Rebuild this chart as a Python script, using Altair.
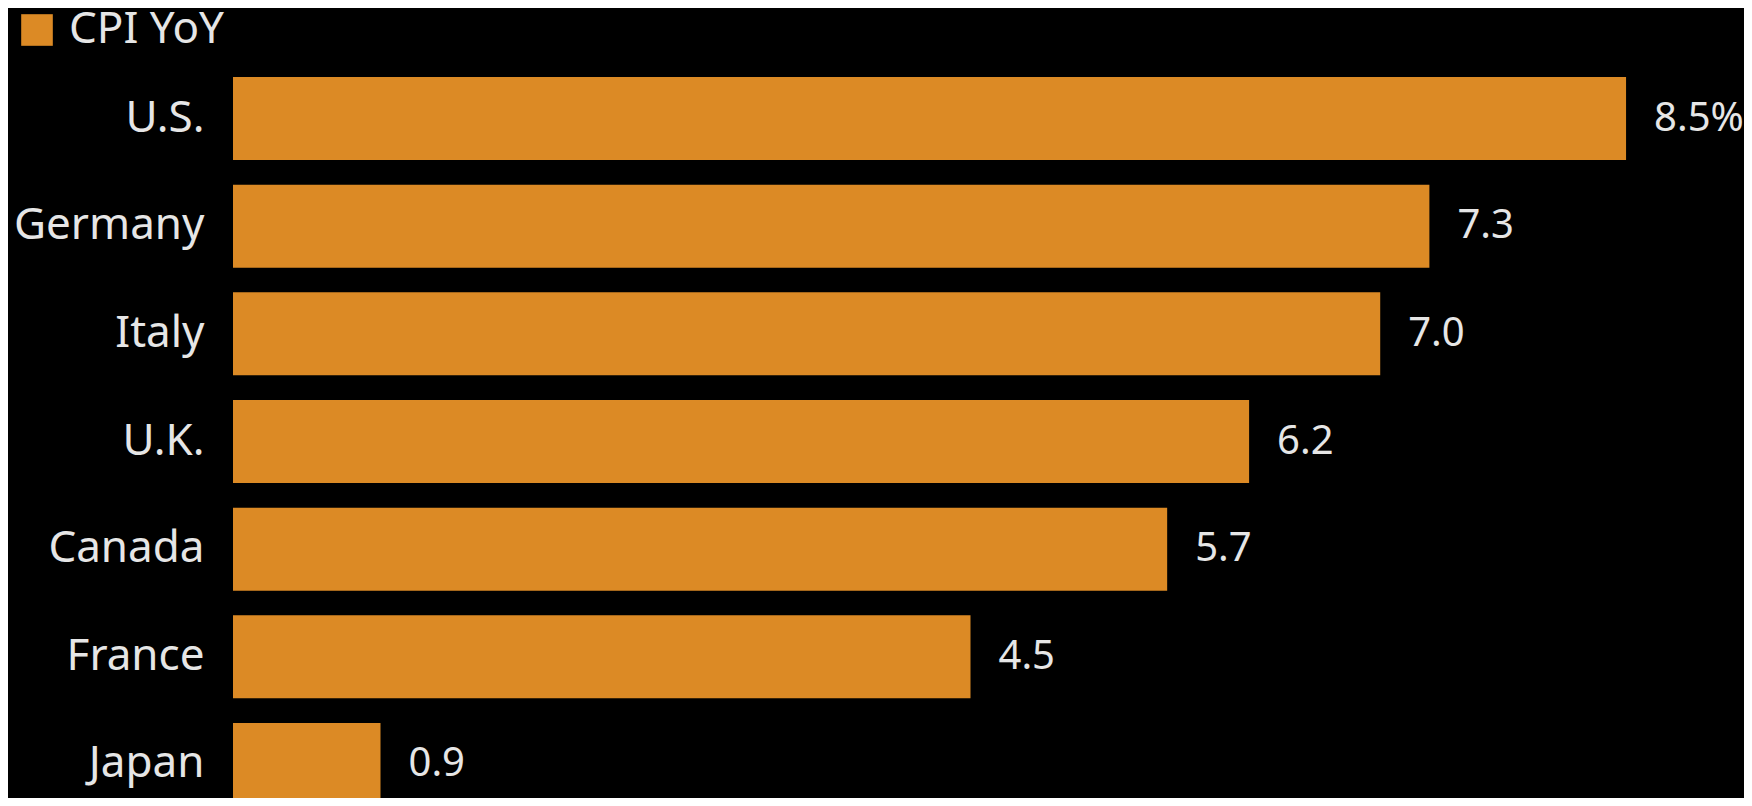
import altair as alt
import pandas as pd

countries = ["U.S.", "Germany", "Italy", "U.K.", "Canada", "France", "Japan"]
cpi_yoy = [8.5, 7.3, 7.0, 6.2, 5.7, 4.5, 0.9]
series_name = "CPI YoY"
value_labels = [f"{v:.1f}" + ("%" if i == 0 else "") for i, v in enumerate(cpi_yoy)]

df = pd.DataFrame({
    "country": countries,
    "value": cpi_yoy,
    "label": value_labels,
    "series": [series_name] * len(countries),
})

FONT = "Noto Sans"
TEXT = "#e6e6e6"
BAR = "#dc8a25"

y_enc = alt.Y(
    "country:N",
    sort=countries,
    scale=alt.Scale(paddingInner=0.229, paddingOuter=0, range=[0, 729]),
    axis=alt.Axis(
        title=None, ticks=False, domain=False, labelPadding=29, labelLimit=0,
        labelFontSize=44, labelColor=TEXT, labelFont=FONT,
    ),
)
x_enc = alt.X(
    "value:Q",
    scale=alt.Scale(domain=[0, 9], nice=False),
    axis=None,
)

bars = alt.Chart(df).mark_bar(cornerRadius=0).encode(
    x=x_enc,
    y=y_enc,
    color=alt.Color(
        "series:N",
        scale=alt.Scale(range=[BAR]),
        legend=alt.Legend(
            title=None, orient="none", legendX=-218, legendY=-69,
            symbolType="square", symbolSize=1000, symbolStrokeWidth=0,
            symbolOpacity=1, labelFontSize=44, labelColor=TEXT,
            labelFont=FONT, labelOffset=10, padding=0, labelLimit=0,
        ),
    ),
)

texts = alt.Chart(df).mark_text(
    align="left", baseline="middle", dx=28, fontSize=40, color=TEXT, font=FONT,
).encode(
    x=x_enc,
    y=y_enc,
    text="label:N",
)

chart = (
    alt.layer(bars, texts)
    .properties(
        width=1475,
        height=721,
        background="#000000",
        padding={"left": 225, "top": 69, "right": 36, "bottom": 0},
        autosize=alt.AutoSizeParams(type="none"),
    )
    .configure_view(stroke=None)
)

chart.save("out.html", embed_options={"renderer": "svg", "actions": False})
